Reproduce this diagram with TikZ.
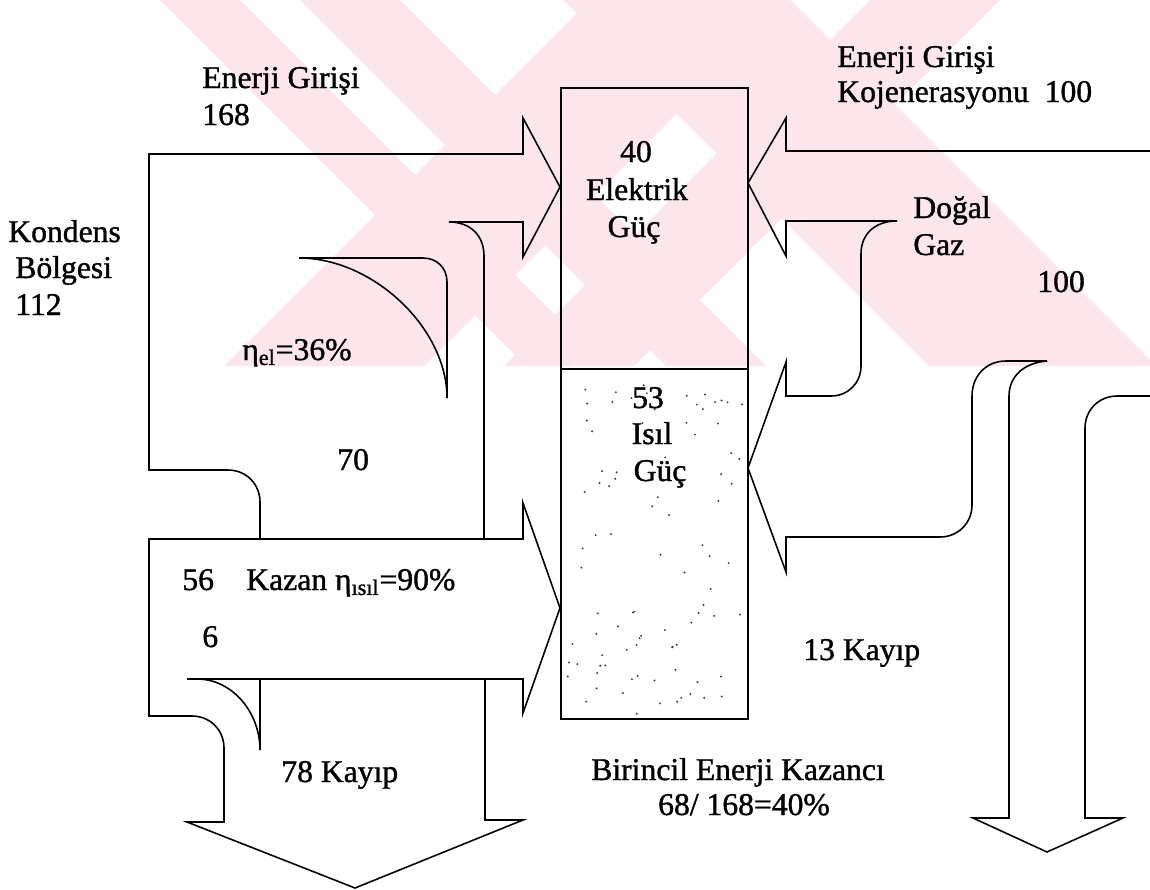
\documentclass[tikz,border=0pt]{standalone}
\usepackage{fontspec}
\setmainfont{Liberation Serif}
\newfontfamily\scanfont{Liberation Serif}[FakeBold=1.2]
\usetikzlibrary{positioning}
\definecolor{wmpink}{RGB}{252,230,235}
\tikzset{
  flow/.style={draw=black, line width=0.9pt, line join=miter},
  lbl/.style={font=\scanfont\fontsize{18}{21}\selectfont, inner sep=0pt, anchor=base west},
  clbl/.style={font=\scanfont\fontsize{18}{21}\selectfont, inner sep=0pt, anchor=base},
  speck/.style={fill=black!75}
}

\begin{document}
\begin{tikzpicture}[x=0.2mm, y=-0.2mm]
  \useasboundingbox (0,0) rectangle (1150,890);

  % watermark stripes
  \begin{scope}
    \clip (0,0) rectangle (1150,366);
    \fill[wmpink] (160,0) -- (240,0) -- (606,366) -- (526,366) -- cycle;
    \fill[wmpink] (300,0) -- (400,0) -- (766,366) -- (666,366) -- cycle;
    \fill[wmpink] (563,0) -- (790,0) -- (1156,366) -- (929,366) -- cycle;
    \fill[wmpink] (590,0) -- (790,0) -- (424,366) -- (224,366) -- cycle;
    \fill[wmpink] (870,0) -- (1000,0) -- (634,366) -- (504,366) -- cycle;
  \end{scope}

  % central box
  \draw[flow] (561,88) rectangle (748,719);
  \draw[flow] (561,369) -- (748,369);
  \pgfmathsetseed{17}
  \foreach \k in {1,...,90}
    \fill[speck] ({566+rnd*178},{374+rnd*340}) circle (1.1);

  % left input: Enerji Girisi 168
  \draw[flow] (260,539) -- (260,502) .. controls (260,484) and (246,470) .. (228,470)
    -- (149,470) -- (149,154) -- (523,154) -- (523,118) -- (560,187) -- (523,257)
    -- (523,222) -- (449,222) .. controls (471,222) and (484,236) .. (484,256) -- (484,539);

  % electric efficiency
  \draw[flow] (299,258) -- (423,258) .. controls (437,258) and (447,268) .. (447,282) -- (447,398);
  \draw[flow] (299,258) .. controls (373,258) and (447,328) .. (447,398);

  % Kazan arrow and loss arrow
  \draw[flow] (187,679) -- (523,679) -- (523,713) -- (560,608) -- (523,503) -- (523,539)
    -- (149,539) -- (149,716) -- (192,716) .. controls (210,716) and (224,730) .. (224,748)
    -- (224,822) -- (187,822) -- (355,888) -- (523,820) -- (485,820) -- (485,679);
  \draw[flow] (197,679) .. controls (232,679) and (260,712) .. (260,750) -- (260,679);

  % right input: Kojenerasyon
  \draw[flow] (1150,151) -- (786,151) -- (786,118) -- (748,183) -- (786,256) -- (786,221)
    -- (897,221) .. controls (875,221) and (861,234) .. (861,254) -- (861,366)
    .. controls (861,383) and (848,396) .. (831,396) -- (786,396) -- (786,362)
    -- (748,468) -- (786,572) -- (786,537) -- (940,537)
    .. controls (958,537) and (972,523) .. (972,505) -- (972,396)
    .. controls (972,376) and (986,361) .. (1006,361) -- (1047,361);
  \draw[flow] (1047,361) .. controls (1022,363) and (1009,378) .. (1009,396) -- (1009,818)
    -- (973,818) -- (1047,852) -- (1123,818) -- (1085,818) -- (1085,428)
    .. controls (1085,410) and (1099,396) .. (1117,396) -- (1150,396);

  % labels
  \node[lbl] (inL1) at (202,88) {Enerji Girişi};
  \node[lbl] (inL2) at (202,125) {168};
  \node[lbl] (inR1) at (837,67) {Enerji Girişi};
  \node[lbl] (inR2) at (837,102) {Kojenerasyonu\ \ 100};
  \node[lbl] (kond1) at (8,242) {Kondens};
  \node[lbl] (kond2) at (15,278) {Bölgesi};
  \node[lbl] (kond3) at (15,315) {112};
  \node[lbl] (etael) at (242,360) {η\textsubscript{el}=36\%};
  \node[lbl] (n70) at (337,470) {70};
  \node[lbl] (n56) at (182,590) {56};
  \node[lbl] (kazan) at (246,590) {Kazan η\textsubscript{ısıl}=90\%};
  \node[lbl] (n6) at (202,647) {6};
  \node[lbl] (loss78) at (281,782) {78 Kayıp};
  \node[clbl] (el1) at (636,162) {40};
  \node[clbl] (el2) at (637,200) {Elektrik};
  \node[clbl] (el3) at (634,237) {Güç};
  \node[clbl] (th1) at (648,408) {53};
  \node[clbl] (th2) at (652,444) {Isıl};
  \node[clbl] (th3) at (660,481) {Güç};
  \node[lbl] (gas1) at (913,218) {Doğal};
  \node[lbl] (gas2) at (913,255) {Gaz};
  \node[lbl] (gas3) at (1037,292) {100};
  \node[lbl] (loss13) at (803,660) {13 Kayıp};
  \node[clbl] (gain1) at (738,780) {Birincil Enerji Kazancı};
  \node[clbl] (gain2) at (744,815) {68/ 168=40\%};
\end{tikzpicture}
\end{document}
